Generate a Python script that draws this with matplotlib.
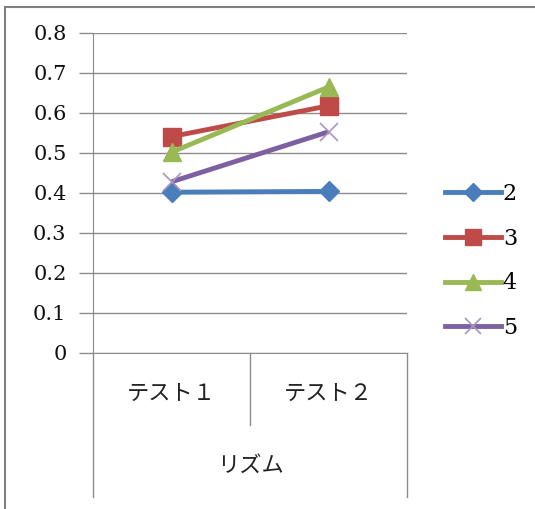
import matplotlib

matplotlib.use('agg')
import matplotlib.pyplot as plt
from matplotlib.lines import Line2D

plt.rcParams['font.family'] = 'serif'
plt.rcParams['font.serif'] = ['DejaVu Serif', 'Liberation Serif']
jp_font = 'Noto Sans CJK JP'

categories = ['テスト１', 'テスト２']
group_label = 'リズム'
series_names = ['2', '3', '4', '5']
s2 = [0.402, 0.404]
s3 = [0.541, 0.618]
s4 = [0.502, 0.665]
s5 = [0.428, 0.553]
y_ticks = [0, 0.1, 0.2, 0.3, 0.4, 0.5, 0.6, 0.7, 0.8]

colors = ['#4A7EBB', '#BE4B48', '#98B954', '#7D60A0']
markers = ['D', 's', '^', 'x']
msizes = [10, 13, 13, 13]

W, H = 535, 509
fig = plt.figure(figsize=(W / 100, H / 100), dpi=100)
ax = fig.add_axes([93 / W, 1 - 353 / H, 314 / W, 320 / H])

xs = [0.5, 1.5]
grid_c = '#8c8c8c'
for vals, c, m, ms in zip([s2, s3, s4, s5], colors, markers, msizes):
    if m == 'x':
        ax.plot(xs, vals, color=c, lw=3.5, zorder=3, solid_capstyle='butt')
        ax.plot(xs, vals, ls='none', marker='x', ms=ms, mew=1.2,
                color='#A995C4', zorder=4)
    else:
        ax.plot(xs, vals, color=c, lw=3.5, marker=m, ms=ms, mec=c, mfc=c,
                zorder=3, solid_capstyle='butt')

ax.set_xlim(0, 2)
ax.set_ylim(0, 0.8)
ax.set_yticks(y_ticks, [('%g' % v) for v in y_ticks], family='serif')
ax.yaxis.grid(True, color=grid_c, lw=1)
ax.set_axisbelow(True)
ax.tick_params(axis='y', length=10, width=1, color=grid_c, pad=9,
               labelsize=15, labelcolor='#111111')
ax.set_xticks(xs, categories, fontsize=16, family=jp_font, color='#222222')
ax.tick_params(axis='x', length=0, pad=21)
for side in ['top', 'right']:
    ax.spines[side].set_visible(False)
for side in ['left', 'bottom']:
    ax.spines[side].set_color(grid_c)

# category axis frame below the plot
ax.plot([0, 0], [0, -0.45], transform=ax.transAxes, color=grid_c, lw=1,
        clip_on=False)
ax.plot([1, 1], [0, -0.45], transform=ax.transAxes, color=grid_c, lw=1,
        clip_on=False)
ax.plot([0.5, 0.5], [0, -0.225], transform=ax.transAxes, color=grid_c, lw=1,
        clip_on=False)
ax.text(0.5, -0.35, group_label, transform=ax.transAxes, ha='center',
        va='center', fontsize=16, family=jp_font, color='#222222')

# outer chart border
fig.add_artist(Line2D([5 / W, 1], [1 - 7 / H, 1 - 7 / H], color='#7f7f7f', lw=1.5))
fig.add_artist(Line2D([5 / W, 5 / W], [0, 1 - 7 / H], color='#7f7f7f', lw=1.5))

handles = []
for c, m, ms in zip(colors, markers, [9, 11, 11, 12]):
    if m == 'x':
        handles.append(Line2D([], [], color=c, lw=3.5, marker='x', ms=ms,
                              mec='#A995C4', mew=1.2))
    else:
        handles.append(Line2D([], [], color=c, lw=3.5, marker=m, ms=ms,
                              mec=c, mfc=c))
fig.legend(handles, series_names, loc='upper left',
           bbox_to_anchor=(445 / W, 1 - 183 / H), frameon=False,
           prop={'family': 'serif', 'size': 16},
           handlelength=2.5, handletextpad=0.1, labelspacing=1.02,
           borderpad=0, borderaxespad=0)

fig.savefig('out.png', dpi=100)
